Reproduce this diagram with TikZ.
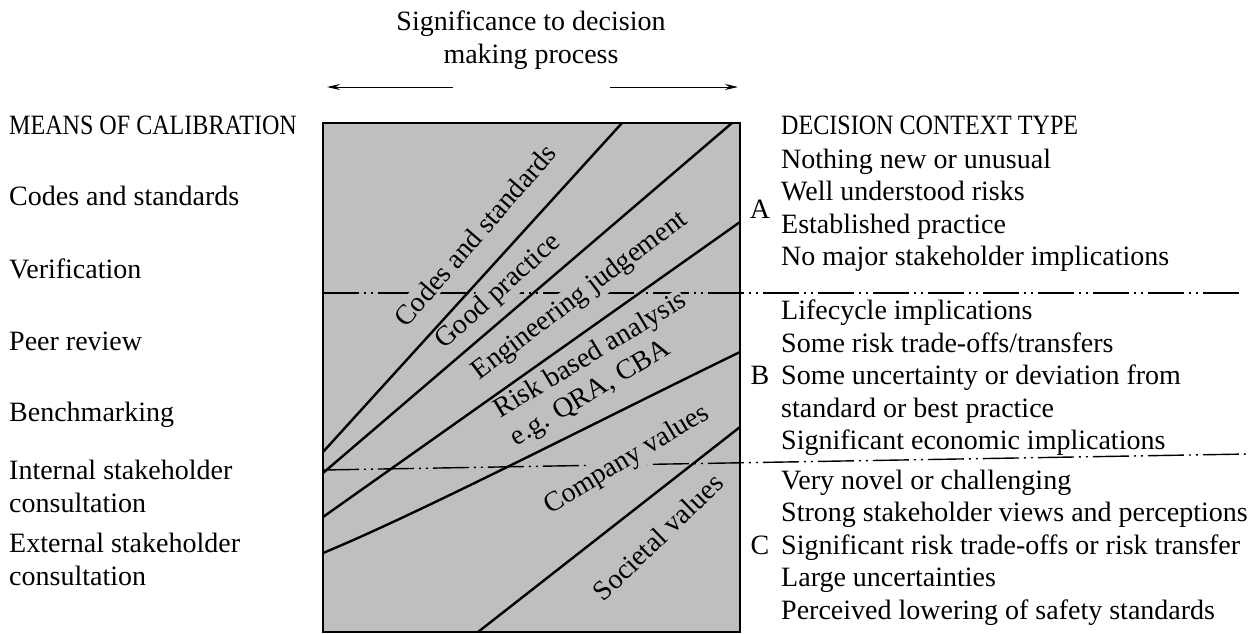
\documentclass[tikz,border=0pt]{standalone}
\usepackage{fontspec}
\setmainfont{Liberation Serif}
\newfontfamily\capsfont[FakeStretch=0.86]{Liberation Serif}
\usetikzlibrary{arrows.meta, positioning}
\definecolor{boxgray}{RGB}{191,191,191}

\begin{document}
\begin{tikzpicture}[
  x=1pt, y=-1pt,
  every node/.style={font=\fontsize{28}{32.5}\selectfont, inner sep=0pt},
  txt/.style={anchor=base west, align=left},
  band/.style={fill=boxgray, inner sep=2pt, align=center},
  divider/.style={line width=1.4pt, dash pattern=on 36pt off 5pt on 2pt off 5pt on 2pt off 5pt},
  bound/.style={line width=2.4pt},
  arr/.style={-{Stealth[length=13pt, width=6pt]}, line width=1pt}
]
\useasboundingbox (0,0) rectangle (1257,633);

% Heading with the two arrows (base = last line)
\node[anchor=base, align=center] (title) at (531,63) {Significance to decision\\making process};
\coordinate (arrL0) at (453,87);
\coordinate (arrL1) at (327,87);
\coordinate (arrR0) at (610,87);
\coordinate (arrR1) at (738,87);
\draw[arr] (arrL0) -- (arrL1);
\draw[arr] (arrR0) -- (arrR1);

% Grey panel
\coordinate (tl) at (323,123);
\coordinate (br) at (740,632);
\fill[boxgray] (tl) rectangle (br);

% Context dividers
\draw[divider] (323,293) -- (1243,293);
\draw[divider] (323,470) -- (1247,454);

% Band labels
\node[band, rotate=49] (lCodes)   at (475,235) {Codes and standards};
\node[band, rotate=42] (lGood)    at (499,292) {Good practice};
\node[band, rotate=37] (lEng)     at (580,296) {Engineering judgement};
\node[band, rotate=31, align=left, inner sep=0pt] (lRisk) at (599,370) {Risk based analysis\\e.g. QRA, CBA};
\node[band, rotate=31] (lCompany) at (627,460) {Company values};
\node[band, rotate=44] (lSociety) at (658,537) {Societal values};

% Band boundaries
\draw[bound] (323,452) -- (622,123);
\draw[bound] (323,473) -- (732,123);
\draw[bound] (323,517) -- (740,222);
\draw[bound] (323,553) .. controls (420,513) and (600,420) .. (740,352);
\draw[bound] (478,632) -- (740,427);
\draw[bound, line width=2.6pt] (tl) rectangle (br);

% Means of calibration
\node[txt] (means)    at (9,134) {\capsfont MEANS OF CALIBRATION};
\node[txt] (codes)    at (9,205) {Codes and standards};
\node[txt] (verif)    at (9,278) {Verification};
\node[txt] (peer)     at (9,350) {Peer review};
\node[txt] (bench)    at (9,421) {Benchmarking};
\node[txt] (internal) at (9,512) {Internal stakeholder\\consultation};
\node[txt] (external) at (9,585) {External stakeholder\\consultation};

% Decision context types
\node[txt] (context) at (781,134) {\capsfont DECISION CONTEXT TYPE};
\node[txt] (typeA) at (781,265.5) {Nothing new or unusual\\Well understood risks\\Established practice\\No major stakeholder implications};
\node[txt] (typeB) at (781,449.5) {Lifecycle implications\\Some risk trade-offs/transfers\\Some uncertainty or deviation from\\standard or best practice\\Significant economic implications};
\node[txt] (typeC) at (781,619) {Very novel or challenging\\Strong stakeholder views and perceptions\\Significant risk trade-offs or risk transfer\\Large uncertainties\\Perceived lowering of safety standards};
\node[anchor=base] (markA) at (760,218) {A};
\node[anchor=base] (markB) at (760,384) {B};
\node[anchor=base] (markC) at (760,554) {C};

\end{tikzpicture}
\end{document}
